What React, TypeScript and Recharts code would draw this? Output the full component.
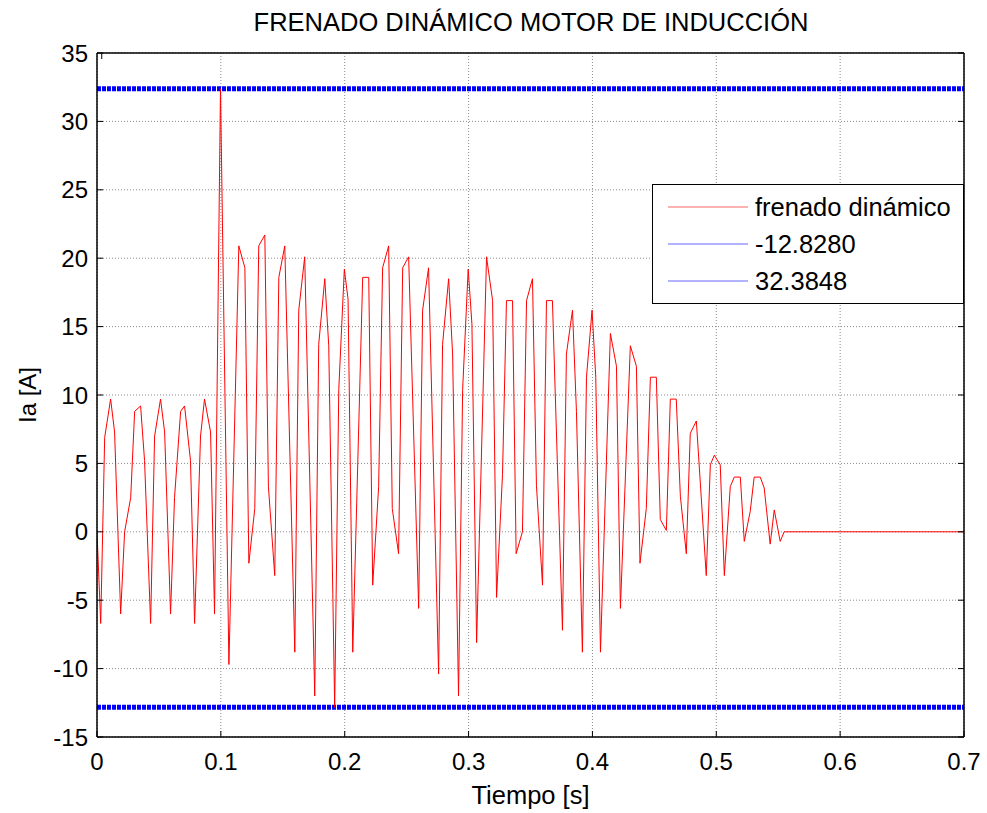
import { LineChart, Line, XAxis, YAxis, CartesianGrid, ReferenceLine } from 'recharts';

const FONT = '"Liberation Sans", Arial, sans-serif';
const TITLE = 'FRENADO DINÁMICO MOTOR DE INDUCCIÓN';
const X_LABEL = 'Tiempo [s]';
const Y_LABEL = 'Ia [A]';

const X_TICKS = [0, 0.1, 0.2, 0.3, 0.4, 0.5, 0.6, 0.7];
const Y_TICKS = [-15, -10, -5, 0, 5, 10, 15, 20, 25, 30, 35];

// time samples [s] (corners of the trace)
const TIME = [
  0, 0.003, 0.0062, 0.011, 0.0142, 0.0191, 0.0223, 0.0272, 0.0304, 0.0352,
  0.0384, 0.0433, 0.0465, 0.0513, 0.0546, 0.0594, 0.0626, 0.0675, 0.0707, 0.0755,
  0.0788, 0.0836, 0.0868, 0.0917, 0.0949, 0.0997, 0.1065, 0.1145, 0.1194, 0.1226,
  0.1274, 0.1306, 0.1355, 0.1384, 0.1435, 0.1468, 0.1516, 0.1597, 0.1629, 0.1677,
  0.1758, 0.179, 0.1839, 0.1871, 0.1919, 0.1952, 0.1997, 0.2027, 0.2065, 0.2145,
  0.2194, 0.2226, 0.2274, 0.2306, 0.2355, 0.2384, 0.2435, 0.2468, 0.2516, 0.2597,
  0.2629, 0.2677, 0.2758, 0.279, 0.2839, 0.2871, 0.2919, 0.2952, 0.2997, 0.3027,
  0.3065, 0.3145, 0.3194, 0.3226, 0.3274, 0.3306, 0.3355, 0.3384, 0.3435, 0.3468,
  0.3516, 0.3548, 0.3597, 0.3629, 0.3677, 0.3758, 0.379, 0.3839, 0.3871, 0.3919,
  0.3952, 0.3997, 0.4027, 0.4065, 0.4145, 0.4194, 0.4226, 0.4306, 0.4355, 0.4384,
  0.4435, 0.4468, 0.4516, 0.4548, 0.4597, 0.4629, 0.4677, 0.471, 0.4758, 0.479,
  0.4839, 0.4919, 0.4952, 0.4984, 0.5032, 0.5065, 0.5113, 0.5145, 0.5194, 0.5226,
  0.5274, 0.5306, 0.5355, 0.5387, 0.5435, 0.5468, 0.5516, 0.5548, 0.7,
];

// phase current Ia [A]
const IA = [
  0, -6.7, 6.9, 9.7, 7.3, -6.0, 0, 2.5, 8.8, 9.2,
  5.2, -6.7, 7.0, 9.7, 7.3, -6.0, 2.5, 8.8, 9.2, 5.2,
  -6.7, 7.0, 9.7, 7.3, -6.0, 32.38, -9.7, 20.9, 19.3, -2.3,
  1.7, 20.9, 21.7, 3.3, -3.2, 18.6, 20.9, -8.8, 16.2, 20.1,
  -12.0, 13.7, 18.5, 13.6, -12.83, 10.4, 19.2, 17.0, -8.8, 18.6,
  18.6, -3.9, 3.3, 19.3, 20.9, 1.7, -1.6, 19.3, 20.1, -5.6,
  16.2, 19.3, -10.4, 13.7, 18.5, 13.0, -12.0, 10.4, 19.2, 15.2,
  -8.1, 20.1, 16.9, -4.8, 4.2, 16.9, 16.9, -1.6, 0, 16.9,
  18.5, 3.4, -3.9, 16.9, 16.9, -7.2, 13.0, 16.2, 8.8, -8.8,
  11.3, 16.2, 11.3, -8.8, 14.5, 12.1, -5.6, 13.6, 12.1, -2.3,
  1.7, 11.3, 11.3, 0.9, 0.1, 9.7, 9.7, 2.6, -1.6, 7.2,
  8.1, -3.2, 4.9, 5.6, 4.9, -3.2, 3.3, 4.0, 4.0, -0.7,
  1.5, 4.0, 4.0, 3.2, -0.9, 1.6, -0.7, 0, 0,
];

const LIMITS = [-12.828, 32.3848];
const LEGEND_NAMES = ['frenado dinámico', '-12.8280', '32.3848'];
const LEGEND_COLORS = ['#ff0000', '#0000ff', '#0000ff'];

const data = TIME.map((t, i) => ({ t, ia: IA[i] }));

const TICK = { fill: '#000', fontSize: 24, fontFamily: FONT };
const AXIS_LINE = { stroke: '#000', strokeWidth: 1.5 };

function Legend() {
  return (
    <div
      style={{
        position: 'absolute', left: 652, top: 184, width: 312, height: 120,
        border: '1.5px solid #000', background: '#fff', boxSizing: 'border-box',
      }}
    >
      <svg width={310} height={117} style={{ display: 'block' }}>
        {LEGEND_NAMES.map((name, i) => (
          <g key={name}>
            <line x1={15} x2={95} y1={22 + i * 37} y2={22 + i * 37} stroke={LEGEND_COLORS[i]} strokeWidth={1} opacity={0.6} />
            <text x={102} y={31 + i * 37} fontSize={25.5} fontFamily={FONT} fill="#000">{name}</text>
          </g>
        ))}
      </svg>
    </div>
  );
}

export default function App() {
  return (
    <div style={{ position: 'absolute', left: 0, top: 0, width: 987, height: 813, background: '#fff', fontFamily: FONT }}>
      <div style={{ position: 'absolute', left: 97, top: 10, width: 868, textAlign: 'center', fontSize: 25.5, lineHeight: '25px', color: '#000' }}>
        {TITLE}
      </div>
      <LineChart width={987} height={813} data={data} margin={{ top: 52, right: 22, bottom: 36, left: 17 }}>
        <CartesianGrid stroke="#8a8a8a" strokeDasharray="1 2" />
        <XAxis
          dataKey="t" type="number" domain={[0, 0.7]} ticks={X_TICKS} allowDataOverflow
          tick={TICK} tickSize={-6} tickMargin={22} axisLine={AXIS_LINE} tickLine={{ stroke: '#000' }}
          height={40}
          label={{ value: X_LABEL, position: 'bottom', offset: 9, style: { fontSize: 25.5, fontFamily: FONT, fill: '#000' } }}
        />
        <XAxis
          xAxisId="top" orientation="top" type="number" domain={[0, 0.7]} ticks={X_TICKS} allowDataOverflow
          tickFormatter={() => ''} tickSize={-6} axisLine={AXIS_LINE} tickLine={{ stroke: '#000' }} height={1}
        />
        <YAxis
          type="number" domain={[-15, 35]} ticks={Y_TICKS} allowDataOverflow
          tick={TICK} tickSize={-6} tickMargin={15} axisLine={AXIS_LINE} tickLine={{ stroke: '#000' }}
          width={80}
          label={{ value: Y_LABEL, angle: -90, position: 'insideLeft', offset: 10, style: { textAnchor: 'middle', fontSize: 24, fontFamily: FONT, fill: '#000' } }}
        />
        <YAxis
          yAxisId="right" orientation="right" type="number" domain={[-15, 35]} ticks={Y_TICKS} allowDataOverflow
          tickFormatter={() => ''} tickSize={-6} axisLine={AXIS_LINE} tickLine={{ stroke: '#000' }} width={1}
        />
        {LIMITS.map((v) => (
          <ReferenceLine key={v} y={v} stroke="#0000ff" strokeWidth={5} strokeDasharray="4 1" />
        ))}
        <Line type="linear" dataKey="ia" stroke="#ff0000" strokeWidth={1} dot={false} isAnimationActive={false} />
      </LineChart>
      <Legend />
    </div>
  );
}
